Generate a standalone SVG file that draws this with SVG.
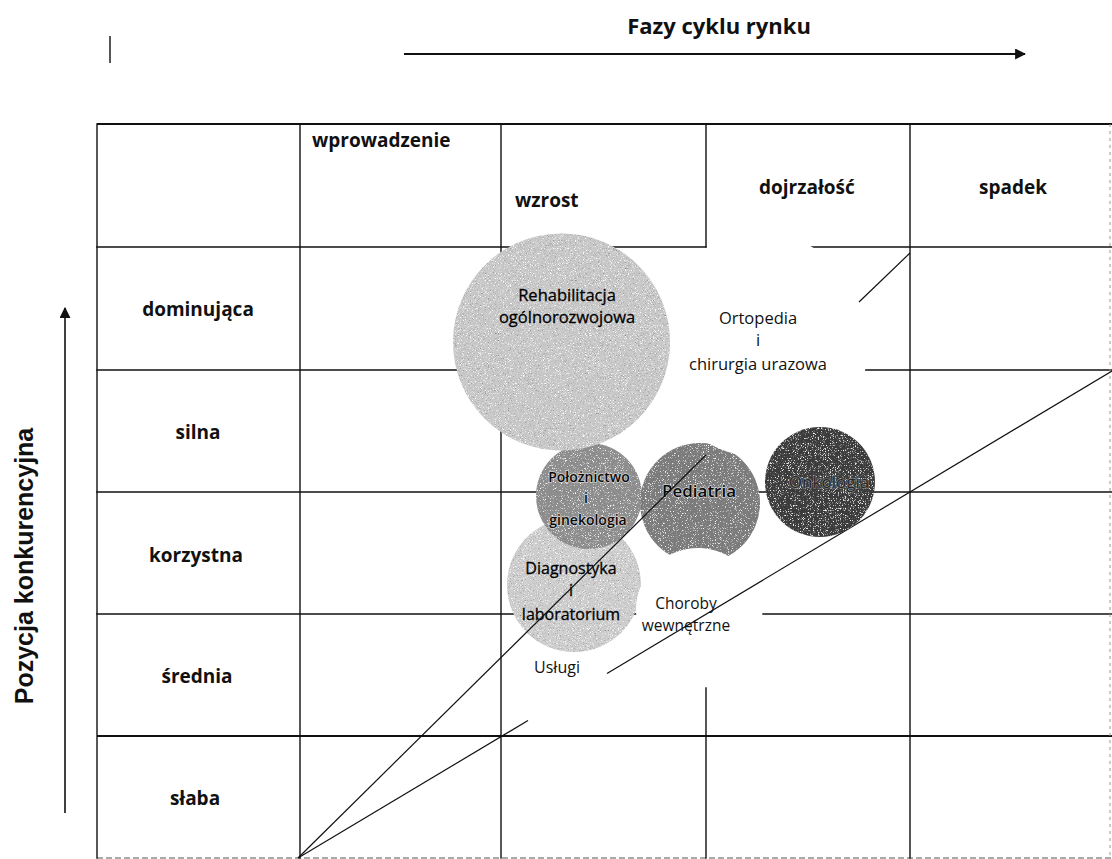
<svg xmlns="http://www.w3.org/2000/svg" width="1112" height="859" viewBox="0 0 1112 859">
<defs>
<style>
.g{stroke:#111;stroke-width:1.4;fill:none;stroke-linecap:square}
.gt{stroke:#111;stroke-width:2.2;fill:none}
.d{stroke:#111;stroke-width:1.2;fill:none}
.h{font-family:"Open Sans","Liberation Sans",sans-serif;font-weight:700;font-size:19px;fill:#111}
.rl{font-family:"Open Sans","Liberation Sans",sans-serif;font-weight:700;font-size:19px;fill:#111;text-anchor:middle}
.b{font-family:"Open Sans","Liberation Sans",sans-serif;font-size:16px;fill:#111;text-anchor:middle}
.dk{fill:#000;stroke:#000;stroke-width:0.3}
.halo{fill:#0a0a0a;stroke:#d2d2d2;stroke-width:1.5;paint-order:stroke;stroke-linejoin:round;font-weight:600}
.bub{filter:url(#grain)}
</style>
<filter id="grain" x="-5%" y="-5%" width="110%" height="110%">
<feTurbulence type="fractalNoise" baseFrequency="1.4" numOctaves="1" seed="7" result="n"/>
<feColorMatrix in="n" type="matrix" values="0 0 0 0 1  0 0 0 0 1  0 0 0 0 1  6 0 0 0 -3.5" result="w"/>
<feColorMatrix in="n" type="matrix" values="0 0 0 0 0.2  0 0 0 0 0.2  0 0 0 0 0.2  -4 0 0 0 1.6" result="k"/>
<feComposite in="w" in2="SourceGraphic" operator="in" result="w2"/>
<feComposite in="k" in2="SourceGraphic" operator="in" result="k2"/>
<feMerge><feMergeNode in="SourceGraphic"/><feMergeNode in="w2"/><feMergeNode in="k2"/></feMerge>
</filter>
<marker id="ah" viewBox="0 0 10 10" refX="9" refY="5" markerWidth="11" markerHeight="11" markerUnits="userSpaceOnUse" orient="auto">
<path d="M0,0 L10,5 L0,10 Z" fill="#111"/>
</marker>
</defs>
<rect width="1112" height="859" fill="#fff"/>

<g id="axes">
<line x1="110" y1="36" x2="110" y2="63" stroke="#111" stroke-width="1.4"/>
<line x1="404" y1="54" x2="1025" y2="54" stroke="#111" stroke-width="2" marker-end="url(#ah)"/>
<text x="719" y="34" class="h" text-anchor="middle" style="font-size:22px">Fazy cyklu rynku</text>
<line x1="65" y1="813" x2="65" y2="308" stroke="#111" stroke-width="1.6" marker-end="url(#ah)"/>
<text transform="translate(33,566) rotate(-90)" text-anchor="middle" font-family="'Liberation Sans',Arial,sans-serif" font-weight="700" font-size="25" fill="#111">Pozycja konkurencyjna</text>
</g>

<g id="grid">
<line class="gt" x1="97" y1="124" x2="1112" y2="124"/>
<line class="g" x1="97" y1="247" x2="706" y2="247"/>
<line class="g" x1="808" y1="247" x2="1112" y2="247"/>
<line class="g" x1="97" y1="370" x2="600" y2="370"/>
<line class="g" x1="865" y1="370" x2="1112" y2="370"/>
<line class="g" x1="97" y1="492" x2="1112" y2="492"/>
<line class="g" x1="97" y1="614" x2="640" y2="614"/>
<line class="g" x1="763" y1="614" x2="1112" y2="614"/>
<line class="gt" x1="97" y1="736" x2="1112" y2="736"/>
<line x1="97" y1="858" x2="1112" y2="858" stroke="#555" stroke-width="1" stroke-dasharray="6 3"/>
<line class="g" x1="97" y1="124" x2="97" y2="858"/>
<line class="g" x1="300" y1="124" x2="300" y2="858"/>
<line class="g" x1="501" y1="124" x2="501" y2="858"/>
<line class="g" x1="706" y1="124" x2="706" y2="247"/>
<line class="g" x1="706" y1="688" x2="706" y2="858"/>
<line class="g" x1="910" y1="124" x2="910" y2="858"/>
<line x1="1110" y1="124" x2="1110" y2="858" stroke="#999" stroke-width="1" stroke-dasharray="3 4"/>
</g>

<g id="headers">
<text class="h" x="312" y="147">wprowadzenie</text>
<text class="h" x="515" y="207">wzrost</text>
<text class="h" x="759" y="194">dojrzałość</text>
<text class="h" x="979" y="194">spadek</text>
<text class="rl" x="198" y="316">dominująca</text>
<text class="rl" x="198" y="439">silna</text>
<text class="rl" x="196" y="562">korzystna</text>
<text class="rl" x="197" y="683">średnia</text>
<text class="rl" x="195" y="805">słaba</text>
</g>

<g id="node-diagnostyka">
<circle class="bub" cx="574" cy="585" r="67" fill="#cdcdcd"/>
<text class="b dk" x="571" y="574">Diagnostyka</text>
<text class="b dk" x="571" y="596">i</text>
<text class="b dk" x="571" y="620">laboratorium</text>
</g>

<g id="node-poloznictwo">
<circle class="bub" cx="589" cy="496" r="53" fill="#8e8e8e"/>
<text class="b halo" x="589" y="482" style="font-size:14px">Położnictwo</text>
<text class="b halo" x="586" y="503" style="font-size:14px">i</text>
<text class="b halo" x="588" y="525" style="font-size:14px">ginekologia</text>
</g>

<g id="node-pediatria">
<circle class="bub" cx="700" cy="503" r="60" fill="#7c7c7c"/>
<text class="b halo" x="699" y="497" style="font-size:17px">Pediatria</text>
</g>

<g id="node-choroby">
<circle cx="698" cy="610" r="62" fill="#fff"/>
<text class="b" x="686" y="609" style="font-size:15.5px">Choroby</text>
<text class="b" x="686" y="631" style="font-size:15.5px">wewnętrzne</text>
</g>

<g id="node-ortopedia">
<ellipse cx="760" cy="345" rx="108" ry="112" fill="#fff"/>
<text class="b" x="758" y="324" style="font-size:16.5px">Ortopedia</text>
<text class="b" x="758" y="346" style="font-size:16.5px">i</text>
<text class="b" x="758" y="370" style="font-size:16.5px">chirurgia urazowa</text>
</g>

<g id="node-rehabilitacja">
<circle class="bub" cx="561.5" cy="342" r="108.5" fill="#c8c8c8"/>
<text class="b dk" x="567" y="301" style="font-size:16.5px">Rehabilitacja</text>
<text class="b dk" x="567" y="323" style="font-size:16.5px">ogólnorozwojowa</text>
</g>

<g id="node-uslugi">
<text class="b" x="557" y="673">Usługi</text>
</g>

<g id="connectors-lower">
<line class="d" x1="298" y1="858" x2="528" y2="720.5"/>
<line class="d" x1="607" y1="673.5" x2="1112" y2="371"/>
</g>

<g id="node-onkologia">
<circle class="bub" cx="820" cy="482" r="55" fill="#3b3b3b"/>
<text class="b" x="829" y="488" style="font-size:17px;fill:#262626;stroke:#8a8a8a;stroke-width:1.2;paint-order:stroke">Onkologia</text>
</g>

<g id="connectors-upper">
<line class="d" x1="298" y1="858" x2="706" y2="455"/>
<line class="d" x1="859" y1="302" x2="910" y2="253"/>
</g>
</svg>
